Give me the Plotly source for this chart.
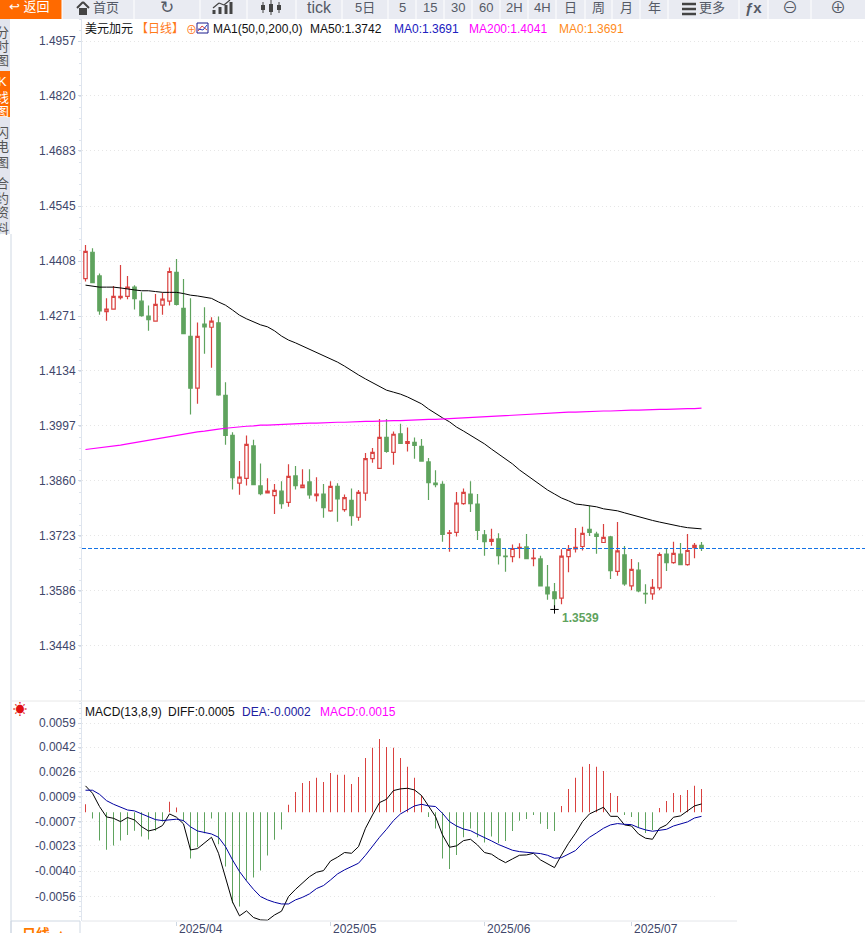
#!/usr/bin/env python3

'''
    USD/CAD daily candles with MA lines and a MACD pane underneath
'''

import pandas as pd
import plotly.graph_objs as go

# One entry per trading day
dates = [d.strftime('%Y-%m-%d') for d in pd.bdate_range('2025-03-13', periods=89)]

opens = [1.4364, 1.4430, 1.4371, 1.4282, 1.4288, 1.4317, 1.4320, 1.4343, 1.4308, 1.4271,
         1.4258, 1.4298, 1.4308, 1.4380, 1.4290, 1.4220, 1.4091, 1.4251, 1.4243, 1.4254,
         1.4073, 1.3973, 1.3854, 1.3866, 1.3947, 1.3847, 1.3830, 1.3823, 1.3834, 1.3806,
         1.3872, 1.3843, 1.3857, 1.3823, 1.3827, 1.3785, 1.3846, 1.3788, 1.3811, 1.3769,
         1.3829, 1.3915, 1.3891, 1.3968, 1.3931, 1.3977, 1.3953, 1.3956, 1.3946, 1.3907,
         1.3854, 1.3851, 1.3729, 1.3731, 1.3803, 1.3827, 1.3802, 1.3725, 1.3709, 1.3715,
         1.3672, 1.3671, 1.3691, 1.3695, 1.3666, 1.3665, 1.3595, 1.3583, 1.3567, 1.3671,
         1.3690, 1.3696, 1.3739, 1.3727, 1.3706, 1.3720, 1.3634, 1.3675, 1.3598, 1.3637,
         1.3579, 1.3578, 1.3593, 1.3677, 1.3656, 1.3677, 1.3651, 1.3693, 1.3699]
highs = [1.4448, 1.4440, 1.4377, 1.4315, 1.4346, 1.4398, 1.4371, 1.4348, 1.4330, 1.4297,
         1.4326, 1.4329, 1.4392, 1.4413, 1.4363, 1.4315, 1.4255, 1.4293, 1.4268, 1.4270,
         1.4106, 1.3981, 1.3909, 1.3973, 1.3962, 1.3903, 1.3866, 1.3852, 1.3859, 1.3901,
         1.3897, 1.3889, 1.3889, 1.3869, 1.3852, 1.3859, 1.3854, 1.3826, 1.3841, 1.3837,
         1.3929, 1.3942, 1.4014, 1.4014, 1.3983, 1.4002, 1.3993, 1.3968, 1.3964, 1.3917,
         1.3886, 1.3859, 1.3737, 1.3832, 1.3841, 1.3859, 1.3827, 1.3737, 1.3740, 1.3729,
         1.3690, 1.3701, 1.3704, 1.3727, 1.3689, 1.3673, 1.3650, 1.3605, 1.3689, 1.3700,
         1.3742, 1.3745, 1.3797, 1.3733, 1.3752, 1.3722, 1.3757, 1.3697, 1.3665, 1.3657,
         1.3602, 1.3615, 1.3681, 1.3692, 1.3708, 1.3705, 1.3727, 1.3705, 1.3707]
lows = [1.4357, 1.4354, 1.4274, 1.4259, 1.4288, 1.4312, 1.4313, 1.4287, 1.4269, 1.4234,
        1.4258, 1.4274, 1.4297, 1.4297, 1.4227, 1.4025, 1.4052, 1.4177, 1.4142, 1.4072,
        1.3950, 1.3838, 1.3825, 1.3848, 1.3850, 1.3824, 1.3830, 1.3777, 1.3790, 1.3795,
        1.3838, 1.3843, 1.3815, 1.3808, 1.3768, 1.3783, 1.3758, 1.3783, 1.3748, 1.3760,
        1.3810, 1.3905, 1.3891, 1.3930, 1.3900, 1.3953, 1.3933, 1.3915, 1.3908, 1.3812,
        1.3844, 1.3708, 1.3683, 1.3721, 1.3800, 1.3782, 1.3712, 1.3673, 1.3698, 1.3651,
        1.3633, 1.3657, 1.3667, 1.3666, 1.3647, 1.3598, 1.3563, 1.3539, 1.3552, 1.3632,
        1.3681, 1.3686, 1.3722, 1.3678, 1.3705, 1.3615, 1.3623, 1.3598, 1.3587, 1.3582,
        1.3553, 1.3563, 1.3587, 1.3635, 1.3653, 1.3651, 1.3648, 1.3667, 1.3685]
closes = [1.4432, 1.4354, 1.4284, 1.4288, 1.4320, 1.4320, 1.4343, 1.4314, 1.4272, 1.4262,
          1.4300, 1.4313, 1.4382, 1.4300, 1.4227, 1.4091, 1.4220, 1.4244, 1.4258, 1.4074,
          1.3973, 1.3868, 1.3869, 1.3951, 1.3850, 1.3828, 1.3834, 1.3836, 1.3803, 1.3871,
          1.3848, 1.3849, 1.3825, 1.3827, 1.3793, 1.3846, 1.3815, 1.3818, 1.3773, 1.3831,
          1.3915, 1.3931, 1.3968, 1.3933, 1.3976, 1.3953, 1.3958, 1.3948, 1.3909, 1.3855,
          1.3850, 1.3726, 1.3730, 1.3804, 1.3831, 1.3803, 1.3736, 1.3708, 1.3714, 1.3673,
          1.3671, 1.3691, 1.3694, 1.3666, 1.3667, 1.3598, 1.3578, 1.3566, 1.3672, 1.3689,
          1.3694, 1.3729, 1.3731, 1.3721, 1.3719, 1.3636, 1.3685, 1.3603, 1.3639, 1.3585,
          1.3578, 1.3594, 1.3676, 1.3656, 1.3679, 1.3651, 1.3686, 1.3699, 1.3691]

ma50 = [1.4348, 1.4346, 1.4343, 1.4343, 1.4343, 1.4341, 1.4338, 1.4336, 1.4334, 1.4334,
        1.4332, 1.4330, 1.4330, 1.4330, 1.4327, 1.4323, 1.4321, 1.4318, 1.4315, 1.4306,
        1.4298, 1.4286, 1.4273, 1.4264, 1.4256, 1.4249, 1.4244, 1.4234, 1.4221, 1.4211,
        1.4204, 1.4196, 1.4189, 1.4181, 1.4174, 1.4166, 1.4156, 1.4146, 1.4134, 1.4124,
        1.4114, 1.4104, 1.4094, 1.4086, 1.4081, 1.4076, 1.4069, 1.4061, 1.4052, 1.4039,
        1.4027, 1.4017, 1.4007, 1.3994, 1.3984, 1.3974, 1.3964, 1.3952, 1.3939, 1.3927,
        1.3914, 1.3902, 1.3887, 1.3874, 1.3862, 1.3849, 1.3837, 1.3827, 1.3817, 1.3810,
        1.3802, 1.3800, 1.3797, 1.3795, 1.3790, 1.3787, 1.3785, 1.3780, 1.3775, 1.3770,
        1.3765, 1.3761, 1.3757, 1.3753, 1.3750, 1.3746, 1.3743, 1.3741, 1.3740]
ma200 = [1.3938, 1.3940, 1.3942, 1.3944, 1.3947, 1.3949, 1.3952, 1.3955, 1.3958, 1.3962,
         1.3965, 1.3968, 1.3971, 1.3974, 1.3977, 1.3979, 1.3982, 1.3984, 1.3987, 1.3989,
         1.3991, 1.3993, 1.3994, 1.3996, 1.3997, 1.3999, 1.3999, 1.4000, 1.4001, 1.4002,
         1.4002, 1.4003, 1.4004, 1.4004, 1.4005, 1.4005, 1.4006, 1.4006, 1.4007, 1.4007,
         1.4008, 1.4008, 1.4009, 1.4009, 1.4010, 1.4010, 1.4011, 1.4011, 1.4012, 1.4013,
         1.4013, 1.4014, 1.4015, 1.4016, 1.4016, 1.4017, 1.4018, 1.4019, 1.4020, 1.4021,
         1.4022, 1.4023, 1.4024, 1.4025, 1.4026, 1.4027, 1.4028, 1.4029, 1.4030, 1.4031,
         1.4031, 1.4032, 1.4033, 1.4033, 1.4034, 1.4034, 1.4035, 1.4035, 1.4036, 1.4036,
         1.4037, 1.4037, 1.4038, 1.4038, 1.4039, 1.4039, 1.4040, 1.4040, 1.4041]

macd_hist = [0.00053, -0.00042, -0.00188, -0.00248, -0.00221, -0.00188, -0.00150, -0.00122, -0.00161, -0.00181,
             -0.00122, -0.00062, 0.00069, 0.00031, -0.00062, -0.00307, -0.00232, -0.00139, -0.00042, -0.00212,
             -0.00360, -0.00603, -0.00625, -0.00453, -0.00433, -0.00387, -0.00287, -0.00183, -0.00115, 0.00049,
             0.00135, 0.00194, 0.00208, 0.00228, 0.00201, 0.00261, 0.00248, 0.00248, 0.00188, 0.00234,
             0.00360, 0.00427, 0.00486, 0.00433, 0.00427, 0.00360, 0.00301, 0.00228, 0.00113, -0.00031,
             -0.00108, -0.00307, -0.00376, -0.00283, -0.00166, -0.00108, -0.00166, -0.00201, -0.00161, -0.00206,
             -0.00190, -0.00124, -0.00057, -0.00044, -0.00018, -0.00077, -0.00111, -0.00124, 0.00042, 0.00155,
             0.00228, 0.00301, 0.00320, 0.00301, 0.00274, 0.00128, 0.00108, -0.00018, -0.00031, -0.00104,
             -0.00137, -0.00117, 0.00029, 0.00075, 0.00128, 0.00115, 0.00148, 0.00175, 0.00155]
diff = [0.00175, 0.00126, 0.00038, -0.00031, -0.00040, -0.00062, -0.00035, -0.00051, -0.00095, -0.00124,
        -0.00113, -0.00088, -0.00011, -0.00033, -0.00077, -0.00250, -0.00241, -0.00201, -0.00166, -0.00272,
        -0.00427, -0.00594, -0.00687, -0.00654, -0.00698, -0.00714, -0.00716, -0.00681, -0.00656, -0.00559,
        -0.00511, -0.00466, -0.00427, -0.00398, -0.00387, -0.00323, -0.00298, -0.00267, -0.00272, -0.00228,
        -0.00106, -0.00018, 0.00064, 0.00086, 0.00144, 0.00155, 0.00159, 0.00148, 0.00111, 0.00042,
        -0.00029, -0.00150, -0.00232, -0.00223, -0.00188, -0.00179, -0.00217, -0.00267, -0.00278, -0.00309,
        -0.00334, -0.00309, -0.00285, -0.00283, -0.00272, -0.00316, -0.00343, -0.00367, -0.00283, -0.00206,
        -0.00139, -0.00062, -0.00011, 0.00009, 0.00033, -0.00027, -0.00027, -0.00084, -0.00091, -0.00144,
        -0.00172, -0.00179, -0.00106, -0.00084, -0.00033, -0.00024, 0.00011, 0.00042, 0.00055]
dea = [0.00146, 0.00146, 0.00119, 0.00077, 0.00053, 0.00035, 0.00015, 0.00009, -0.00011, -0.00033,
       -0.00049, -0.00055, -0.00051, -0.00046, -0.00055, -0.00097, -0.00124, -0.00135, -0.00144, -0.00166,
       -0.00228, -0.00316, -0.00393, -0.00455, -0.00511, -0.00559, -0.00581, -0.00597, -0.00608, -0.00608,
       -0.00581, -0.00564, -0.00541, -0.00506, -0.00486, -0.00449, -0.00409, -0.00382, -0.00360, -0.00338,
       -0.00285, -0.00223, -0.00166, -0.00113, -0.00055, -0.00011, 0.00015, 0.00042, 0.00053, 0.00042,
       0.00038, -0.00007, -0.00062, -0.00091, -0.00111, -0.00122, -0.00146, -0.00166, -0.00190, -0.00214,
       -0.00232, -0.00252, -0.00261, -0.00265, -0.00267, -0.00274, -0.00285, -0.00305, -0.00301, -0.00278,
       -0.00254, -0.00206, -0.00166, -0.00137, -0.00106, -0.00084, -0.00075, -0.00080, -0.00082, -0.00102,
       -0.00117, -0.00126, -0.00119, -0.00113, -0.00091, -0.00080, -0.00064, -0.00038, -0.00027]

price_ticks = [1.4957, 1.4820, 1.4683, 1.4545, 1.4408, 1.4271, 1.4134, 1.3997, 1.3860, 1.3723, 1.3586, 1.3448]
macd_ticks = [0.00590, 0.00431, 0.00267, 0.00102, -0.00062, -0.00223, -0.00390, -0.00559]
macd_tick_labels = ['0.0059', '0.0042', '0.0026', '0.0009', '-0.0007', '-0.0023', '-0.0040', '-0.0056']
month_ticks = ['2025-04-01', '2025-05-01', '2025-06-02', '2025-07-01']
month_labels = ['2025/04', '2025/05', '2025/06', '2025/07']
last_price = 1.3691
low_price = 1.3539
low_date = '2025-06-16'

# Toolbar buttons: text, font size
toolbar_edges = [62, 134, 200, 247, 296, 342, 388, 416, 444, 472, 500, 528, 556, 585, 612, 640, 668, 739, 768, 811, 865]
toolbar_labels = [('', 13), ('↻', 17), ('', 12), ('', 12), ('tick', 16), ('5日', 13), ('5', 13), ('15', 13),
                  ('30', 13), ('60', 13), ('2H', 13), ('4H', 13), ('日', 13), ('周', 13), ('月', 13), ('年', 13),
                  ('', 13), ('<b>ƒx</b>', 15), ('⊖', 16), ('⊕', 16)]

# Vertical tabs on the left, cut by the page edge
side_tabs = [('分', 33), ('时', 47), ('图', 61), ('K', 82), ('线', 97), ('图', 112),
             ('闪', 132), ('电', 147), ('图', 162), ('合', 183), ('约', 198), ('资', 213), ('料', 228)]

W, H = 865, 933
RED, GREEN = '#d9413f', '#5fa35e'
FONT = 'Liberation Sans, Noto Sans CJK SC, DejaVu Sans'
# Puts every day on a pixel centre, 7px apart, so that thin bars stay one pixel wide
X_RANGE = [-0.5, 111.357]


def px(x):
    return x / W


def py(y):
    return 1 - y / H


def label(text, x, y, size=12, color='#111111', anchor='left', bold=False):
    return dict(text='<b>' + text + '</b>' if bold else text, x=px(x), y=py(y), xref='paper', yref='paper',
                xanchor=anchor, yanchor='middle', showarrow=False,
                font=dict(size=size, color=color, family=FONT))


def box(x0, y0, x1, y1, fill, line=None):
    return dict(type='rect', xref='paper', yref='paper', x0=px(x0), x1=px(x1), y0=py(y0), y1=py(y1),
                fillcolor=fill, line=dict(width=1 if line else 0, color=line or fill), layer='above')


def stroke(x0, y0, x1, y1, color, width=1):
    return dict(type='line', xref='paper', yref='paper', x0=px(x0), x1=px(x1), y0=py(y0), y1=py(y1),
                line=dict(color=color, width=width), layer='above')


traces = [
    go.Candlestick(x=dates, open=opens, high=highs, low=lows, close=closes, xaxis='x', yaxis='y',
                   increasing=dict(line=dict(color=RED, width=1.2), fillcolor='#ffffff'),
                   decreasing=dict(line=dict(color=GREEN, width=1.2), fillcolor=GREEN),
                   whiskerwidth=0),
    go.Scatter(x=dates, y=ma50, mode='lines', line=dict(color='#000000', width=1), xaxis='x', yaxis='y'),
    go.Scatter(x=dates, y=ma200, mode='lines', line=dict(color='#ff00ff', width=1.2), xaxis='x', yaxis='y'),
    go.Scatter(x=[low_date], y=[low_price], mode='markers', xaxis='x', yaxis='y',
               marker=dict(symbol='cross-thin', size=6, line=dict(color='#000000', width=1))),
    go.Bar(x=dates, y=macd_hist, width=0.12, xaxis='x2', yaxis='y2',
           marker=dict(color=[RED if v > 0 else GREEN for v in macd_hist], line=dict(width=0))),
    go.Scatter(x=dates, y=diff, mode='lines', line=dict(color='#000000', width=1), xaxis='x2', yaxis='y2'),
    go.Scatter(x=dates, y=dea, mode='lines', line=dict(color='#0000a0', width=1), xaxis='x2', yaxis='y2'),
]

grid = dict(showgrid=True, gridcolor='#e6e6e6', griddash='1px,3px', gridwidth=1, zeroline=False, automargin=False,
            showline=True, linecolor='#dfe5ee', linewidth=1, ticks='outside', ticklen=3, tickcolor='#cfd8e3',
            tickfont=dict(size=12, color='#40466a', family=FONT))

annotations = [
    label('美元加元', 83, 29),
    label('【日线】', 134, 29, color='#ff7a1a'),
    label('⊕', 184, 30, size=11, color='#ff7a1a'),
    label('MA1(50,0,200,0)', 211, 29),
    label('MA50:1.3742', 308, 29),
    label('MA0:1.3691', 392, 29, color='#2020c0'),
    label('MA200:1.4041', 467, 29, color='#ff00ff'),
    label('MA0:1.3691', 557, 29, color='#ff8c1a'),
    label('1.3539', 560, 618, color=GREEN, bold=True),
    label('☀', 20, 709, size=14, color='#e01010', anchor='center'),
    label('MACD(13,8,9)', 83, 712),
    label('DIFF:0.0005', 166, 712),
    label('DEA:-0.0002', 240, 712, color='#2020a0'),
    label('MACD:0.0015', 318, 712, color='#ff00ff'),
    label('↩ 返回', 30, 7, size=13, color='#ffffff', anchor='center'),
    label('日线 ▲', 45, 934, size=14, color='#ff7a00', anchor='center', bold=True),
    label('首页', 106, 8, size=13, color='#555a66', anchor='center'),
    label('更多', 712, 8, size=13, color='#555a66', anchor='center'),
]
for tick, text in zip(month_ticks, month_labels):
    annotations.append(dict(text=text, x=tick, y=py(929), xref='x2', yref='paper', xanchor='left', yanchor='middle',
                            showarrow=False, font=dict(size=12, color='#40466a', family=FONT)))

shapes = [
    box(0, 0, 62, 19, '#ff6a00'),
    box(62, 0, W, 19, '#e9ebf2'),
    box(0, 19, 10, 234, '#e3e5ee'),
    box(0, 71, 10, 117, '#ff6a00'),
    box(716, 895, W, 920, '#ffffff'),
    box(11, 921, 80, 940, '#ffffff', '#cfd8e3'),
    dict(type='line', xref='paper', yref='paper', x0=px(11), x1=px(11), y0=py(234), y1=py(H),
         line=dict(color='#cfd8e3', width=1)),
    dict(type='line', xref='paper', yref='paper', x0=px(12), x1=1, y0=py(701), y1=py(701),
         line=dict(color='#e8e8e8', width=1)),
    dict(type='line', xref='paper', yref='paper', x0=px(82), x1=px(737), y0=py(921), y1=py(921),
         line=dict(color='#e4e6ea', width=1)),
    dict(type='line', xref='x domain', yref='y', x0=0, x1=1, y0=last_price, y1=last_price,
         line=dict(color='#1473e6', width=1.2, dash='4px,2px'), layer='above'),
    # MA1 icon in the header
    box(197, 23, 208, 33, '#ffffff', '#1a1a8c'),
    stroke(198, 31, 202, 26, RED), stroke(202, 26, 207, 30, RED),
    stroke(198, 29, 203, 30, '#2040c0'), stroke(203, 30, 207, 25, '#2040c0'),
    # toolbar house icon
    stroke(77, 8, 83, 2, '#444444', 2), stroke(83, 2, 89, 8, '#444444', 2), box(79, 8, 87, 15, '#444444'),
    # toolbar menu icon
    stroke(682, 4, 696, 4, '#444444', 2.5), stroke(682, 9, 696, 9, '#444444', 2.5), stroke(682, 14, 696, 14, '#444444', 2.5),
    # toolbar chart icon
    stroke(214, 14, 214, 10, '#444444', 3), stroke(220, 14, 220, 7, '#444444', 3),
    stroke(226, 14, 226, 5, '#444444', 3), stroke(231, 14, 231, 2, '#444444', 3),
    stroke(213, 8, 219, 3, '#444444', 1.2), stroke(219, 3, 224, 5, '#444444', 1.2), stroke(224, 5, 230, 0, '#444444', 1.2),
    # toolbar candle icon
    stroke(263, 2, 263, 13, '#444444', 1), stroke(263, 5, 263, 10, '#444444', 4),
    stroke(271, 0, 271, 15, '#444444', 1), stroke(271, 4, 271, 12, '#444444', 4),
    stroke(279, 2, 279, 13, '#444444', 1), stroke(279, 5, 279, 10, '#444444', 4),
]
for edge in toolbar_edges[:-1]:
    shapes.append(stroke(edge, 0, edge, 19, '#ffffff'))
for (text, size), left, right in zip(toolbar_labels, toolbar_edges, toolbar_edges[1:]):
    if text:
        annotations.append(label(text, (left + right) / 2, 8, size=size, color='#555a66', anchor='center'))

for i, (char, y) in enumerate(side_tabs):
    annotations.append(label(char, 2, y, size=13, color='#ffffff' if 3 <= i <= 5 else '#555555', anchor='center'))

layout = go.Layout(
    autosize=False, width=W, height=H,
    margin=go.layout.Margin(l=0, r=0, t=0, b=0, pad=0),
    paper_bgcolor='#ffffff', plot_bgcolor='#ffffff',
    showlegend=False, barmode='overlay',
    xaxis=dict(domain=[px(82), 1], anchor='y', type='category', range=X_RANGE, rangeslider=dict(visible=False),
               showticklabels=False, showgrid=False, showline=False, ticks='', automargin=False),
    yaxis=dict(domain=[py(701), py(19)], anchor='x', range=[1.33106, 1.50119], tickvals=price_ticks,
               ticktext=['%.4f' % v for v in price_ticks],
               minor=dict(ticks='outside', ticklen=2, tickcolor='#dfe5ee', dtick=0.002744, tick0=1.4957), **grid),
    xaxis2=dict(domain=[px(82), 1], anchor='y2', type='category', range=X_RANGE, showgrid=False,
                tickvals=month_ticks, ticks='outside', ticklen=4, tickcolor='#cfd8e3',
                showticklabels=False, showline=False, automargin=False),
    yaxis2=dict(domain=[py(921), py(702)], anchor='x2', range=[-0.00721, 0.00731], tickvals=macd_ticks,
                ticktext=macd_tick_labels,
                minor=dict(ticks='outside', ticklen=2, tickcolor='#dfe5ee', dtick=0.000328, tick0=0.0059), **grid),
    annotations=annotations,
    shapes=shapes,
)

fig = go.Figure(data=traces, layout=layout)
# Browser default body margin would push the chart 8px off the window
fig.write_html("out.html", config=dict(displayModeBar=False), post_script="document.body.style.margin = '0';")
